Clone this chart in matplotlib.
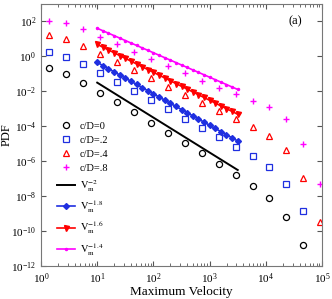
import numpy as np
import matplotlib
matplotlib.use("Agg")
from matplotlib import pyplot as plt

plt.rcParams["font.family"] = ["Liberation Serif", "DejaVu Serif"]
plt.rcParams["mathtext.fontset"] = "stix"

# velocity bins (log-spaced by factor 2)
vel = [1.41, 2.83, 5.66, 11.3, 22.6, 45.3, 90.5, 181, 362, 724,
       1448, 2896, 5793, 11585, 23170, 46341, 92682]

# log10 PDF
pdf_c0 = [-0.68, -1.01, -1.54, -2.11, -2.63, -3.20, -3.79, -4.37, -4.97, -5.55,
          -6.16, -6.77, -7.42, -8.09, -9.17, -10.81]
pdf_c2 = [0.24, -0.01, -0.45, -0.93, -1.45, -1.96, -2.50, -3.03, -3.58, -4.08,
          -4.61, -5.17, -5.72, -6.35, -7.29, -8.83]
pdf_c4 = [1.23, 1.00, 0.60, 0.14, -0.32, -0.78, -1.25, -1.73, -2.21, -2.68,
          -3.12, -3.58, -4.04, -4.57, -5.37, -6.94, -9.48]
pdf_c8 = [2.04, 1.89, 1.55, 1.09, 0.69, 0.27, -0.17, -0.57, -0.95, -1.39,
          -1.79, -2.17, -2.54, -2.91, -3.58, -5.01, -7.32]

# power-law guides: exponent and log10 prefactor
fit_exp = [-2.0, -1.8, -1.6, -1.4]
fit_logA = [0.50, 1.46, 2.29, 3.01]
fit_labels = [r"$\mathrm{V_m^{-2}}$", r"$\mathrm{V_m^{-1.8}}$",
              r"$\mathrm{V_m^{-1.6}}$", r"$\mathrm{V_m^{-1.4}}$"]

fig = plt.figure(figsize=(3.32, 2.99), dpi=100)
ax = fig.add_axes([0.1235, 0.110, 0.8465, 0.8766])

def pts(vals):
    return vel[:len(vals)], [10 ** v for v in vals]

x, y = pts(pdf_c0)
ax.plot(x, y, "o", ms=4.4, mfc="none", mec="black", mew=0.9, ls="none", label="c/D=0")
x, y = pts(pdf_c2)
ax.plot(x, y, "s", ms=3.8, mfc="none", mec="#1f2fe0", mew=0.9, ls="none", label="c/D=.2")
x, y = pts(pdf_c4)
ax.plot(x, y, "^", ms=5, mfc="none", mec="red", mew=0.9, ls="none", label="c/D=.4")
x, y = pts(pdf_c8)
ax.plot(x, y, "+", ms=5, mec="magenta", mew=1.0, ls="none", label="c/D=.8")

vx = np.logspace(1, 3.5, 26)
styles = [("black", None, 0), ("#1f2fe0", "D", 3.0), ("red", "v", 3.6), ("magenta", ".", 3.0)]
for e, la, lab, (c, m, ms) in zip(fit_exp, fit_logA, fit_labels, styles):
    ax.plot(vx, 10 ** la * vx ** e, color=c, lw=1.4 if m is None else 1.2,
            marker=m, ms=ms, label=lab)

ax.set_xscale("log")
ax.set_yscale("log")
ax.set_xlim(1, 1e5)
ax.set_ylim(1e-12, 1e3)
ax.set_yticks([10.0 ** k for k in range(-12, 3, 2)])
ax.yaxis.set_minor_locator(matplotlib.ticker.NullLocator())
ax.tick_params(which="both", direction="in", top=True, right=True, labelsize=8,
               colors="#555555", labelcolor="black")
ax.tick_params(which="major", length=3.5)
ax.tick_params(which="minor", length=2)
for s in ax.spines.values():
    s.set_color("#777777")
    s.set_linewidth(0.8)

ax.set_xlabel("Maximum Velocity", fontsize=9.5, labelpad=0)
ax.set_ylabel("PDF", fontsize=9)
ax.yaxis.set_label_coords(-0.1, 0.5)
ax.text(0.93, 0.935, "(a)", transform=ax.transAxes, ha="right", va="center", fontsize=9)

ax.legend(loc="lower left", bbox_to_anchor=(0.03, 0.005), frameon=False, fontsize=7.5,
          handlelength=1.8, handletextpad=0.4, labelspacing=0.45, borderpad=0.2)

fig.savefig("out.png", dpi=100)
